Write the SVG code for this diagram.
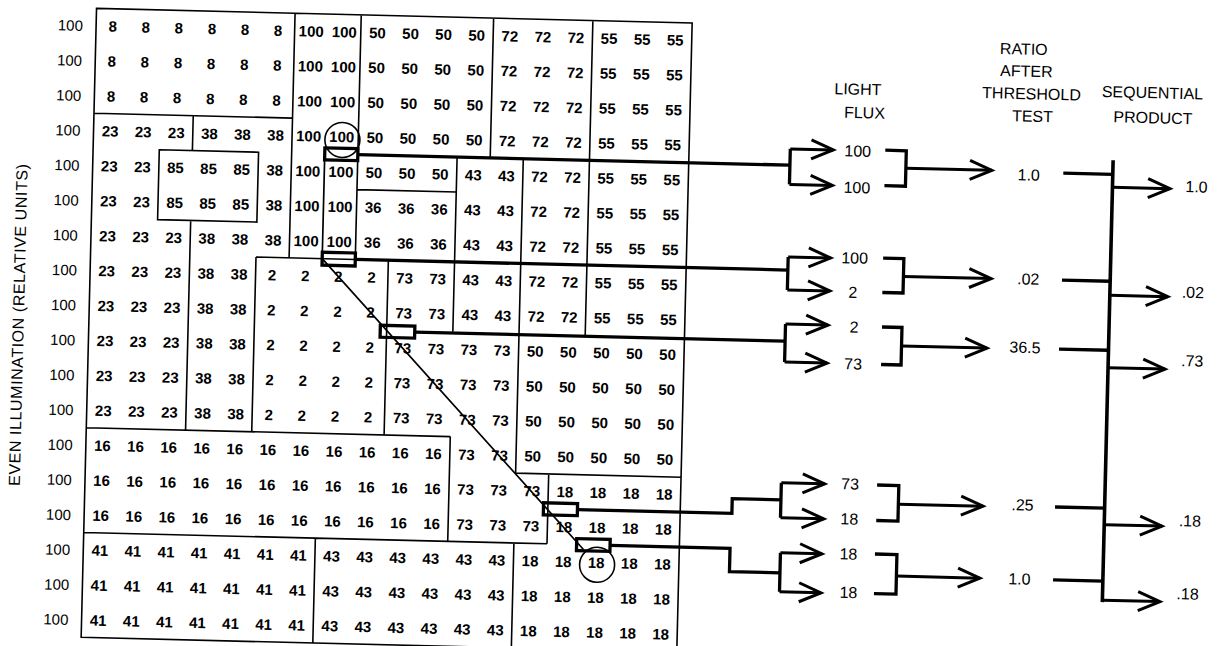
<svg xmlns="http://www.w3.org/2000/svg" width="1217" height="646" viewBox="0 0 1217 646">
<style>
.n{font-family:"Liberation Sans",Arial,Helvetica,sans-serif;font-weight:bold;font-size:15px;text-anchor:middle;fill:#000}
.l{font-family:"Liberation Sans",Arial,Helvetica,sans-serif;font-size:15px;text-anchor:middle;fill:#000}
.h{font-family:"Liberation Sans",Arial,Helvetica,sans-serif;font-size:16px;text-anchor:middle;fill:#000}
.thin{fill:none;stroke:#000;stroke-width:1.6}
.path{fill:none;stroke:#000;stroke-width:1.7}
.thick{fill:none;stroke:#000;stroke-width:3.3}
.arr{fill:none;stroke:#000;stroke-width:3;marker-end:url(#ah)}
</style>
<defs>
<marker id="ah" markerUnits="userSpaceOnUse" markerWidth="30" markerHeight="26" viewBox="-26 -13 30 26" refX="0" refY="0" orient="auto">
<path d="M-22,-9.5 L0,0 L-22,9.5" fill="none" stroke="#000" stroke-width="3"/>
</marker>
</defs>
<rect width="1217" height="646" fill="#fff"/>
<g transform="rotate(1.4 608 323)">
<g id="axis-label">
<text class="h" transform="translate(23.9,339.4) rotate(-90)" textLength="322" lengthAdjust="spacing">EVEN ILLUMINATION (RELATIVE UNITS)</text>
</g>
<g id="row-labels" class="l">
<text x="63.3" y="43.9">100</text><text x="63.3" y="78.8">100</text><text x="63.3" y="113.8">100</text>
<text x="63.3" y="148.7">100</text><text x="63.3" y="183.7">100</text><text x="63.3" y="218.6">100</text>
<text x="63.3" y="253.6">100</text><text x="63.3" y="288.5">100</text><text x="63.3" y="323.5">100</text>
<text x="63.3" y="358.4">100</text><text x="63.3" y="393.4">100</text><text x="63.3" y="428.3">100</text>
<text x="63.3" y="463.3">100</text><text x="63.3" y="498.2">100</text><text x="63.3" y="533.2">100</text>
<text x="63.3" y="568.1">100</text><text x="63.3" y="603.1">100</text><text x="63.3" y="638">100</text>
</g>
<g id="grid-lines">
<path class="thin" d="M89,21 H684.8 V650.1 H89 Z M287.6,21 V265.65 M89,125.85 H287.6 M353.8,21 V265.65 M254.5,265.65 H353.8 M188.3,125.85 V160.8 M155.2,160.8 H254.5 V230.7 H155.2 Z M188.3,230.7 V440.4 M254.5,265.65 V440.4 M386.9,265.65 V440.4 M89,440.4 H453.1 M353.8,195.75 H453.1 M453.1,160.8 V335.55 M486.2,21 V160.8 M519.3,160.8 V475.35 M585.5,21 V335.55 M519.3,475.35 H684.8 M453.1,440.4 V545.25 M552.4,475.35 V545.25 M89,545.25 H552.4 M519.3,545.25 V650.1 M320.7,545.25 V650.1"/>
</g>
<g id="grid-values" class="n">
<text y="43.9"><tspan x="105.6">8</tspan><tspan x="138.7">8</tspan><tspan x="171.8">8</tspan><tspan x="204.9">8</tspan><tspan x="238">8</tspan><tspan x="271.1">8</tspan><tspan x="304.2">100</tspan><tspan x="337.3">100</tspan><tspan x="370.4">50</tspan><tspan x="403.5">50</tspan><tspan x="436.6">50</tspan><tspan x="469.7">50</tspan><tspan x="502.8">72</tspan><tspan x="535.9">72</tspan><tspan x="569">72</tspan><tspan x="602.1">55</tspan><tspan x="635.2">55</tspan><tspan x="668.3">55</tspan></text>
<text y="78.8"><tspan x="105.6">8</tspan><tspan x="138.7">8</tspan><tspan x="171.8">8</tspan><tspan x="204.9">8</tspan><tspan x="238">8</tspan><tspan x="271.1">8</tspan><tspan x="304.2">100</tspan><tspan x="337.3">100</tspan><tspan x="370.4">50</tspan><tspan x="403.5">50</tspan><tspan x="436.6">50</tspan><tspan x="469.7">50</tspan><tspan x="502.8">72</tspan><tspan x="535.9">72</tspan><tspan x="569">72</tspan><tspan x="602.1">55</tspan><tspan x="635.2">55</tspan><tspan x="668.3">55</tspan></text>
<text y="113.8"><tspan x="105.6">8</tspan><tspan x="138.7">8</tspan><tspan x="171.8">8</tspan><tspan x="204.9">8</tspan><tspan x="238">8</tspan><tspan x="271.1">8</tspan><tspan x="304.2">100</tspan><tspan x="337.3">100</tspan><tspan x="370.4">50</tspan><tspan x="403.5">50</tspan><tspan x="436.6">50</tspan><tspan x="469.7">50</tspan><tspan x="502.8">72</tspan><tspan x="535.9">72</tspan><tspan x="569">72</tspan><tspan x="602.1">55</tspan><tspan x="635.2">55</tspan><tspan x="668.3">55</tspan></text>
<text y="148.7"><tspan x="105.6">23</tspan><tspan x="138.7">23</tspan><tspan x="171.8">23</tspan><tspan x="204.9">38</tspan><tspan x="238">38</tspan><tspan x="271.1">38</tspan><tspan x="304.2">100</tspan><tspan x="337.3">100</tspan><tspan x="370.4">50</tspan><tspan x="403.5">50</tspan><tspan x="436.6">50</tspan><tspan x="469.7">50</tspan><tspan x="502.8">72</tspan><tspan x="535.9">72</tspan><tspan x="569">72</tspan><tspan x="602.1">55</tspan><tspan x="635.2">55</tspan><tspan x="668.3">55</tspan></text>
<text y="183.7"><tspan x="105.6">23</tspan><tspan x="138.7">23</tspan><tspan x="171.8">85</tspan><tspan x="204.9">85</tspan><tspan x="238">85</tspan><tspan x="271.1">38</tspan><tspan x="304.2">100</tspan><tspan x="337.3">100</tspan><tspan x="370.4">50</tspan><tspan x="403.5">50</tspan><tspan x="436.6">50</tspan><tspan x="469.7">43</tspan><tspan x="502.8">43</tspan><tspan x="535.9">72</tspan><tspan x="569">72</tspan><tspan x="602.1">55</tspan><tspan x="635.2">55</tspan><tspan x="668.3">55</tspan></text>
<text y="218.6"><tspan x="105.6">23</tspan><tspan x="138.7">23</tspan><tspan x="171.8">85</tspan><tspan x="204.9">85</tspan><tspan x="238">85</tspan><tspan x="271.1">38</tspan><tspan x="304.2">100</tspan><tspan x="337.3">100</tspan><tspan x="370.4">36</tspan><tspan x="403.5">36</tspan><tspan x="436.6">36</tspan><tspan x="469.7">43</tspan><tspan x="502.8">43</tspan><tspan x="535.9">72</tspan><tspan x="569">72</tspan><tspan x="602.1">55</tspan><tspan x="635.2">55</tspan><tspan x="668.3">55</tspan></text>
<text y="253.6"><tspan x="105.6">23</tspan><tspan x="138.7">23</tspan><tspan x="171.8">23</tspan><tspan x="204.9">38</tspan><tspan x="238">38</tspan><tspan x="271.1">38</tspan><tspan x="304.2">100</tspan><tspan x="337.3">100</tspan><tspan x="370.4">36</tspan><tspan x="403.5">36</tspan><tspan x="436.6">36</tspan><tspan x="469.7">43</tspan><tspan x="502.8">43</tspan><tspan x="535.9">72</tspan><tspan x="569">72</tspan><tspan x="602.1">55</tspan><tspan x="635.2">55</tspan><tspan x="668.3">55</tspan></text>
<text y="288.5"><tspan x="105.6">23</tspan><tspan x="138.7">23</tspan><tspan x="171.8">23</tspan><tspan x="204.9">38</tspan><tspan x="238">38</tspan><tspan x="271.1">2</tspan><tspan x="304.2">2</tspan><tspan x="337.3">2</tspan><tspan x="370.4">2</tspan><tspan x="403.5">73</tspan><tspan x="436.6">73</tspan><tspan x="469.7">43</tspan><tspan x="502.8">43</tspan><tspan x="535.9">72</tspan><tspan x="569">72</tspan><tspan x="602.1">55</tspan><tspan x="635.2">55</tspan><tspan x="668.3">55</tspan></text>
<text y="323.5"><tspan x="105.6">23</tspan><tspan x="138.7">23</tspan><tspan x="171.8">23</tspan><tspan x="204.9">38</tspan><tspan x="238">38</tspan><tspan x="271.1">2</tspan><tspan x="304.2">2</tspan><tspan x="337.3">2</tspan><tspan x="370.4">2</tspan><tspan x="403.5">73</tspan><tspan x="436.6">73</tspan><tspan x="469.7">43</tspan><tspan x="502.8">43</tspan><tspan x="535.9">72</tspan><tspan x="569">72</tspan><tspan x="602.1">55</tspan><tspan x="635.2">55</tspan><tspan x="668.3">55</tspan></text>
<text y="358.4"><tspan x="105.6">23</tspan><tspan x="138.7">23</tspan><tspan x="171.8">23</tspan><tspan x="204.9">38</tspan><tspan x="238">38</tspan><tspan x="271.1">2</tspan><tspan x="304.2">2</tspan><tspan x="337.3">2</tspan><tspan x="370.4">2</tspan><tspan x="403.5">73</tspan><tspan x="436.6">73</tspan><tspan x="469.7">73</tspan><tspan x="502.8">73</tspan><tspan x="535.9">50</tspan><tspan x="569">50</tspan><tspan x="602.1">50</tspan><tspan x="635.2">50</tspan><tspan x="668.3">50</tspan></text>
<text y="393.4"><tspan x="105.6">23</tspan><tspan x="138.7">23</tspan><tspan x="171.8">23</tspan><tspan x="204.9">38</tspan><tspan x="238">38</tspan><tspan x="271.1">2</tspan><tspan x="304.2">2</tspan><tspan x="337.3">2</tspan><tspan x="370.4">2</tspan><tspan x="403.5">73</tspan><tspan x="436.6">73</tspan><tspan x="469.7">73</tspan><tspan x="502.8">73</tspan><tspan x="535.9">50</tspan><tspan x="569">50</tspan><tspan x="602.1">50</tspan><tspan x="635.2">50</tspan><tspan x="668.3">50</tspan></text>
<text y="428.3"><tspan x="105.6">23</tspan><tspan x="138.7">23</tspan><tspan x="171.8">23</tspan><tspan x="204.9">38</tspan><tspan x="238">38</tspan><tspan x="271.1">2</tspan><tspan x="304.2">2</tspan><tspan x="337.3">2</tspan><tspan x="370.4">2</tspan><tspan x="403.5">73</tspan><tspan x="436.6">73</tspan><tspan x="469.7">73</tspan><tspan x="502.8">73</tspan><tspan x="535.9">50</tspan><tspan x="569">50</tspan><tspan x="602.1">50</tspan><tspan x="635.2">50</tspan><tspan x="668.3">50</tspan></text>
<text y="463.3"><tspan x="105.6">16</tspan><tspan x="138.7">16</tspan><tspan x="171.8">16</tspan><tspan x="204.9">16</tspan><tspan x="238">16</tspan><tspan x="271.1">16</tspan><tspan x="304.2">16</tspan><tspan x="337.3">16</tspan><tspan x="370.4">16</tspan><tspan x="403.5">16</tspan><tspan x="436.6">16</tspan><tspan x="469.7">73</tspan><tspan x="502.8">73</tspan><tspan x="535.9">50</tspan><tspan x="569">50</tspan><tspan x="602.1">50</tspan><tspan x="635.2">50</tspan><tspan x="668.3">50</tspan></text>
<text y="498.2"><tspan x="105.6">16</tspan><tspan x="138.7">16</tspan><tspan x="171.8">16</tspan><tspan x="204.9">16</tspan><tspan x="238">16</tspan><tspan x="271.1">16</tspan><tspan x="304.2">16</tspan><tspan x="337.3">16</tspan><tspan x="370.4">16</tspan><tspan x="403.5">16</tspan><tspan x="436.6">16</tspan><tspan x="469.7">73</tspan><tspan x="502.8">73</tspan><tspan x="535.9">73</tspan><tspan x="569">18</tspan><tspan x="602.1">18</tspan><tspan x="635.2">18</tspan><tspan x="668.3">18</tspan></text>
<text y="533.2"><tspan x="105.6">16</tspan><tspan x="138.7">16</tspan><tspan x="171.8">16</tspan><tspan x="204.9">16</tspan><tspan x="238">16</tspan><tspan x="271.1">16</tspan><tspan x="304.2">16</tspan><tspan x="337.3">16</tspan><tspan x="370.4">16</tspan><tspan x="403.5">16</tspan><tspan x="436.6">16</tspan><tspan x="469.7">73</tspan><tspan x="502.8">73</tspan><tspan x="535.9">73</tspan><tspan x="569">18</tspan><tspan x="602.1">18</tspan><tspan x="635.2">18</tspan><tspan x="668.3">18</tspan></text>
<text y="568.1"><tspan x="105.6">41</tspan><tspan x="138.7">41</tspan><tspan x="171.8">41</tspan><tspan x="204.9">41</tspan><tspan x="238">41</tspan><tspan x="271.1">41</tspan><tspan x="304.2">41</tspan><tspan x="337.3">43</tspan><tspan x="370.4">43</tspan><tspan x="403.5">43</tspan><tspan x="436.6">43</tspan><tspan x="469.7">43</tspan><tspan x="502.8">43</tspan><tspan x="535.9">18</tspan><tspan x="569">18</tspan><tspan x="602.1">18</tspan><tspan x="635.2">18</tspan><tspan x="668.3">18</tspan></text>
<text y="603.1"><tspan x="105.6">41</tspan><tspan x="138.7">41</tspan><tspan x="171.8">41</tspan><tspan x="204.9">41</tspan><tspan x="238">41</tspan><tspan x="271.1">41</tspan><tspan x="304.2">41</tspan><tspan x="337.3">43</tspan><tspan x="370.4">43</tspan><tspan x="403.5">43</tspan><tspan x="436.6">43</tspan><tspan x="469.7">43</tspan><tspan x="502.8">43</tspan><tspan x="535.9">18</tspan><tspan x="569">18</tspan><tspan x="602.1">18</tspan><tspan x="635.2">18</tspan><tspan x="668.3">18</tspan></text>
<text y="638"><tspan x="105.6">41</tspan><tspan x="138.7">41</tspan><tspan x="171.8">41</tspan><tspan x="204.9">41</tspan><tspan x="238">41</tspan><tspan x="271.1">41</tspan><tspan x="304.2">41</tspan><tspan x="337.3">43</tspan><tspan x="370.4">43</tspan><tspan x="403.5">43</tspan><tspan x="436.6">43</tspan><tspan x="469.7">43</tspan><tspan x="502.8">43</tspan><tspan x="535.9">18</tspan><tspan x="569">18</tspan><tspan x="602.1">18</tspan><tspan x="635.2">18</tspan><tspan x="668.3">18</tspan></text>
</g>
<g id="scan-path">
<path class="path" d="M320.7,160.8 V265.65 L589,550"/>
<circle class="thin" cx="338" cy="146.5" r="17.5"/>
<circle class="thin" cx="603" cy="565" r="17.5"/>
</g>
<g id="sample-pairs">
<rect class="thick" x="320.7" y="154.8" width="33.1" height="12"/>
<rect class="thick" x="320.7" y="259.2" width="33.1" height="13"/>
<rect class="thick" x="380.5" y="330.8" width="34.5" height="12"/>
<rect class="thick" x="548" y="504.3" width="34" height="12"/>
<rect class="thick" x="582" y="539.3" width="33.5" height="12"/>
</g>
<g id="headers" class="h">
<text x="852.2" y="88.7">LIGHT</text>
<text x="859.3" y="112">FLUX</text>
<text x="1017" y="44.5">RATIO</text>
<text x="1020.2" y="66.6">AFTER</text>
<text x="1025.8" y="89">THRESHOLD</text>
<text x="1027.3" y="111.4">TEST</text>
<text x="1146.7" y="85">SEQUENTIAL</text>
<text x="1147.8" y="110">PRODUCT</text>
</g>
<g id="connectors">
<path class="thick" d="M353.8,160.8 H786 M786,144.5 V180 M881,143.5 H902 V179 H881 M1059.5,162 H1109"/>
<path class="arr" d="M786,144.5 H829"/><path class="arr" d="M786,180 H829"/>
<path class="arr" d="M902,161 H988"/><path class="arr" d="M1109,175 H1166.5"/>
<path class="thick" d="M353.8,265.65 H786.5 M786.5,252.6 V285.6 M881.5,251.5 H902.2 V285.8 H881.5 M1060.8,269 H1109"/>
<path class="arr" d="M786.5,252.6 H829"/><path class="arr" d="M786.5,285.6 H829"/>
<path class="arr" d="M902.2,269.2 H990"/><path class="arr" d="M1109,283 H1167"/>
<path class="thick" d="M415,336.8 H785.5 M785.5,319.7 V357.7 M882,320.3 H902 V357.8 H882 M1059.5,338 H1109"/>
<path class="arr" d="M785.5,319.7 H828"/><path class="arr" d="M785.5,357.7 H828"/>
<path class="arr" d="M902,338.8 H987.5"/><path class="arr" d="M1109,355.5 H1166"/>
<path class="thick" d="M582,510.3 H736.5 V495.5 H785.2 M785.2,478.5 V513.5 M881,478.4 H902.7 V513.9 H881 M1059.4,496 H1109"/>
<path class="arr" d="M785.2,478.5 H828.5"/><path class="arr" d="M785.2,513.5 H828.5"/>
<path class="arr" d="M902.7,497 H987.4"/><path class="arr" d="M1109,512.5 H1166.8"/>
<path class="thick" d="M615.5,545.25 H735.5 V568.5 H786 M786,548.5 V587.5 M880.5,547.4 H902.5 V587 H880.5 M1059.2,569 H1109"/>
<path class="arr" d="M786,548.5 H827.5"/><path class="arr" d="M786,587.5 H827.5"/>
<path class="arr" d="M902.5,569 H986"/><path class="arr" d="M1109,588 H1166.6"/>
<path class="thick" style="stroke-width:3.6" d="M1109,148 V590"/>
</g>
<g id="flux-values" class="h">
<text x="853.5" y="150.5">100</text><text x="853.5" y="187">100</text>
<text x="853" y="257.5">100</text><text x="852" y="292">2</text>
<text x="854" y="326.5">2</text><text x="854" y="363.5">73</text>
<text x="854" y="483.5">73</text><text x="854" y="518.5">18</text>
<text x="854" y="553.5">18</text><text x="855" y="592">18</text>
</g>
<g id="ratio-values" class="h">
<text x="1025" y="170.3">1.0</text>
<text x="1027" y="274.3">.02</text>
<text x="1025.5" y="342.8">36.5</text>
<text x="1026.8" y="500.3">.25</text>
<text x="1025.6" y="574.4">1.0</text>
</g>
<g id="product-values" class="h">
<text x="1193" y="178">1.0</text>
<text x="1192" y="283.7">.02</text>
<text x="1193" y="352.2">.73</text>
<text x="1194.6" y="512.2">.18</text>
<text x="1194" y="585.3">.18</text>
</g>
</g>
</svg>
